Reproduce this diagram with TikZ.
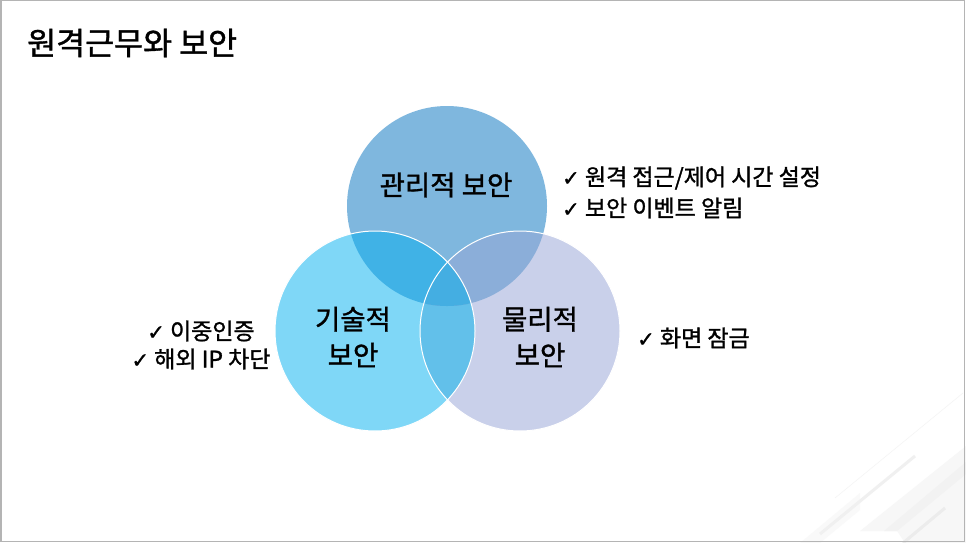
\documentclass[tikz,border=0pt]{standalone}
\usepackage{fontspec}
\usepackage{xcolor}
\usepackage{tikz}
\usetikzlibrary{positioning}
\setmainfont{Noto Sans CJK KR}[FakeBold=1.2]
\newfontfamily\chkfont{DejaVu Sans}[FakeBold=1.5]
\definecolor{admblue}{HTML}{7FB7DE}
\definecolor{techcyan}{HTML}{7FD7F7}
\definecolor{physlav}{HTML}{C9D0EA}
\definecolor{admtech}{HTML}{40B2E6}
\definecolor{admphys}{HTML}{8BAED9}
\definecolor{techphys}{HTML}{62C0EA}
\definecolor{allblue}{HTML}{44AEE2}
\definecolor{framegray}{HTML}{B4B4B4}
\newcommand{\chk}{{\chkfont\fontsize{21}{24}\selectfont ✓}}

\begin{document}
\begin{tikzpicture}[x=1pt, y=-1pt,
    areatext/.style={font=\fontsize{27.5}{36}\selectfont, align=center, inner sep=0pt},
    itemtext/.style={font=\fontsize{23}{28}\selectfont, inner sep=0pt},
    ring/.style={draw=white, line width=1pt}]
  \useasboundingbox (0,0) rectangle (966,543);
  \fill[white] (0,0) rectangle (966,543);

  % corner stripes
  \fill[gray!5] (800,543) -- (860,493) -- (860,510) -- (820,543) -- cycle;
  \fill[gray!6] (860,531) -- (966,446) -- (966,543) -- (905,543) -- (897,531) -- cycle;
  \fill[gray!10] (897,531) -- (966,474) -- (966,462) -- (884,531) -- cycle;
  \draw[gray!12, line width=3pt] (820,534) -- (915,456);
  \draw[gray!15, line width=3pt] (903,543) -- (945,508);
  \draw[gray!8, line width=0.6pt] (835,498) -- (963,393);
  \draw[framegray, line width=1.5pt] (0.75,0.75) rectangle (964.5,541.5);

  \node[anchor=west, font=\fontsize{31.5}{34}\selectfont, inner sep=0pt] (title) at (27,43) {원격근무와 보안};

  \coordinate (admc) at (447,206);
  \coordinate (techc) at (375,331);
  \coordinate (physc) at (520,331);

  \fill[admblue] (admc) circle[radius=100pt];
  \fill[techcyan] (techc) circle[radius=100pt];
  \fill[physlav] (physc) circle[radius=100pt];
  \begin{scope}
    \clip (techc) circle[radius=100pt];
    \fill[techphys] (physc) circle[radius=100pt];
  \end{scope}
  \begin{scope}
    \clip (admc) circle[radius=100pt];
    \fill[admtech] (techc) circle[radius=100pt];
    \fill[admphys] (physc) circle[radius=100pt];
    \clip (techc) circle[radius=100pt];
    \fill[allblue] (physc) circle[radius=100pt];
  \end{scope}
  \draw[ring] (techc) circle[radius=100pt];
  \draw[ring] (physc) circle[radius=100pt];

  \node[areatext] (admlbl) at (446,185) {관리적 보안};
  \node[areatext] (techlbl) at (353,337) {기술적\\보안};
  \node[areatext] (physlbl) at (540,337) {물리적\\보안};

  \node[itemtext, anchor=west] (admitem1) at (562,178) {\chk\ 원격 접근/제어 시간 설정};
  \node[itemtext, anchor=west] (admitem2) at (562,208) {\chk\ 보안 이벤트 알림};
  \node[itemtext, align=center] (techitem) at (201,345) {\chk\ 이중인증\\\chk\ 해외 IP 차단};
  \node[itemtext, anchor=west] (physitem) at (637,338) {\chk\ 화면 잠금};
\end{tikzpicture}
\end{document}
